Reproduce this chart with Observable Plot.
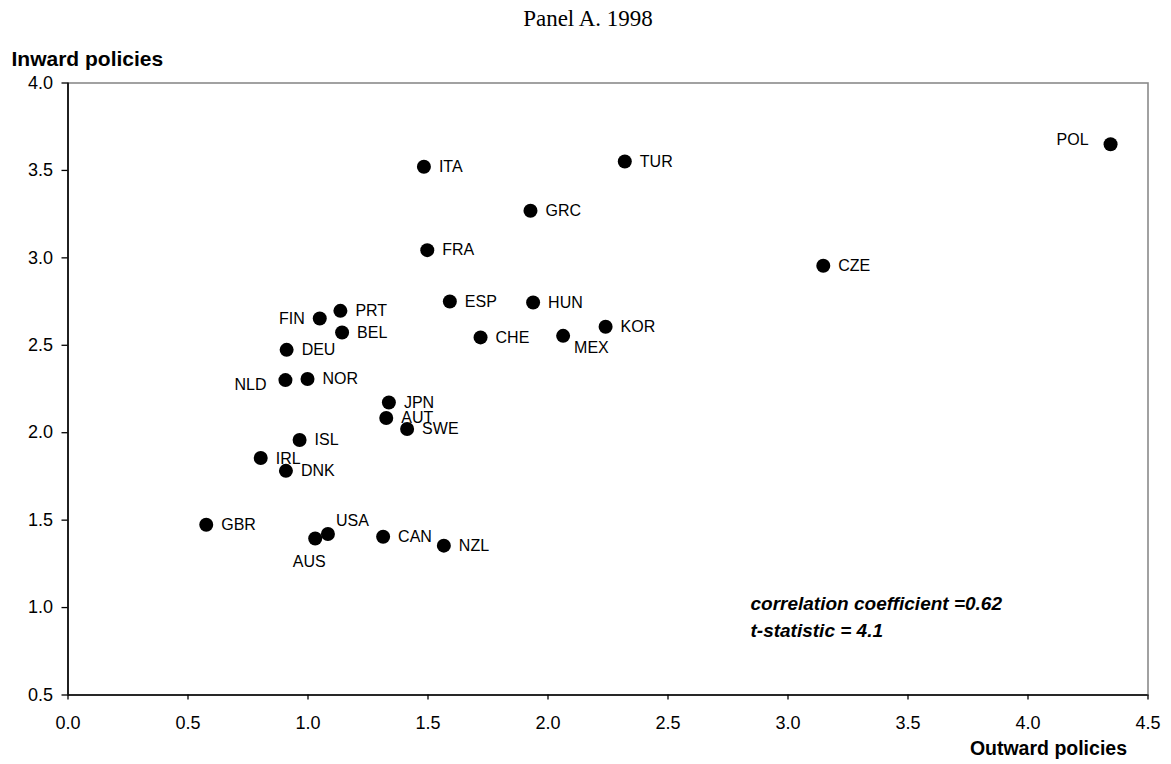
<!DOCTYPE html>
<html>
<head>
<meta charset="utf-8">
<script src="https://cdn.jsdelivr.net/npm/d3@7"></script>
<script src="https://cdn.jsdelivr.net/npm/@observablehq/plot@0.6"></script>
<style>
  html, body { margin: 0; padding: 0; background: #fff; }
  #chart { width: 1171px; height: 764px; }
</style>
</head>
<body>
<div id="chart"></div>
<script>
// ---- Data ----
const countries = ["POL","TUR","ITA","GRC","FRA","CZE","ESP","HUN","PRT","FIN","KOR","BEL","MEX","CHE",
                   "DEU","NLD","NOR","JPN","AUT","SWE","ISL","IRL","DNK","GBR","USA","AUS","CAN","NZL"];
const outward   = [4.344, 2.320, 1.483, 1.927, 1.497, 3.147, 1.591, 1.938, 1.135, 1.049, 2.240, 1.142, 2.063, 1.719,
                   0.911, 0.906, 0.998, 1.337, 1.326, 1.413, 0.965, 0.803, 0.908, 0.576, 1.083, 1.030, 1.313, 1.566];
const inward    = [3.650, 3.551, 3.521, 3.269, 3.044, 2.955, 2.750, 2.745, 2.697, 2.653, 2.606, 2.573, 2.554, 2.545,
                   2.474, 2.301, 2.307, 2.173, 2.084, 2.021, 1.958, 1.855, 1.782, 1.474, 1.421, 1.395, 1.405, 1.354];
const xTicks = [0, 0.5, 1, 1.5, 2, 2.5, 3, 3.5, 4, 4.5];
const yTicks = [0.5, 1, 1.5, 2, 2.5, 3, 3.5, 4];
const titleText = "Panel A. 1998";
const xLabel = "Outward policies";
const yLabel = "Inward policies";
const noteText = "correlation coefficient =0.62\nt-statistic = 4.1";

const data = countries.map((c, i) => ({country: c, x: outward[i], y: inward[i]}));

// ---- Label placement (layout only) ----
const defaultPlace = {textAnchor: "start", dx: 15, dy: 0};
const placement = {
  POL: {textAnchor: "end", dx: -22, dy: -4},
  FIN: {textAnchor: "end", dx: -15, dy: 0},
  NLD: {textAnchor: "end", dx: -19, dy: 5},
  AUS: {textAnchor: "middle", dx: -6, dy: 23},
  USA: {textAnchor: "start", dx: 8, dy: -13},
  MEX: {textAnchor: "start", dx: 11, dy: 12},
  IRL: {textAnchor: "start", dx: 15, dy: 1}
};
const groups = d3.group(data, d => JSON.stringify(placement[d.country] || defaultPlace));
const labelMarks = Array.from(groups, ([key, rows]) => {
  const p = JSON.parse(key);
  return Plot.text(rows, {x: "x", y: "y", text: "country", textAnchor: p.textAnchor, dx: p.dx, dy: p.dy,
    fontSize: 16, fill: "black"});
});

const font = "'Liberation Sans', Arial, sans-serif";

const chart = Plot.plot({
  width: 1171,
  height: 764,
  marginLeft: 67.5,
  marginRight: 23.5,
  marginTop: 82.5,
  marginBottom: 69.5,
  style: {fontFamily: font, fontSize: "16px", color: "black", background: "white"},
  x: {domain: [0, 4.5]},
  y: {domain: [0.5, 4.0]},
  marks: [
    Plot.frame({stroke: "#8a8a8a", strokeWidth: 1.6}),
    Plot.ruleX([0], {stroke: "black", strokeWidth: 1.6}),
    Plot.ruleY([0.5], {stroke: "black", strokeWidth: 1.6}),
    Plot.axisX({ticks: xTicks, tickFormat: d3.format(".1f"), tickSize: 5, tickPadding: 16, fontSize: 18, label: null, strokeWidth: 1.3}),
    Plot.axisY({ticks: yTicks, tickFormat: d3.format(".1f"), tickSize: 6, tickPadding: 9, fontSize: 18, label: null, strokeWidth: 1.3}),
    Plot.dot(data, {x: "x", y: "y", r: 7, fill: "black", stroke: null}),
    ...labelMarks,
    Plot.text([titleText], {text: d => d, frameAnchor: "top", lineAnchor: "middle", dx: -20, dy: -64.5,
      fontFamily: "'Liberation Serif', 'Times New Roman', serif", fontSize: 23, fill: "black"}),
    Plot.text([yLabel], {text: d => d, frameAnchor: "top-left", lineAnchor: "middle", textAnchor: "start", dx: -56.5, dy: -23.5,
      fontWeight: "bold", fontSize: 21, fill: "black"}),
    Plot.text([xLabel], {text: d => d, frameAnchor: "bottom-right", lineAnchor: "middle", textAnchor: "end", dx: -21, dy: 54,
      fontWeight: "bold", fontSize: 19.5, fill: "black"}),
    Plot.text([noteText], {text: d => d, frameAnchor: "bottom-left", textAnchor: "start", lineAnchor: "top",
      dx: 682.5, dy: -103, lineHeight: 1.37,
      fontWeight: "bold", fontStyle: "italic", fontSize: 19, fill: "black"})
  ]
});
document.getElementById("chart").appendChild(chart);
</script>
</body>
</html>
